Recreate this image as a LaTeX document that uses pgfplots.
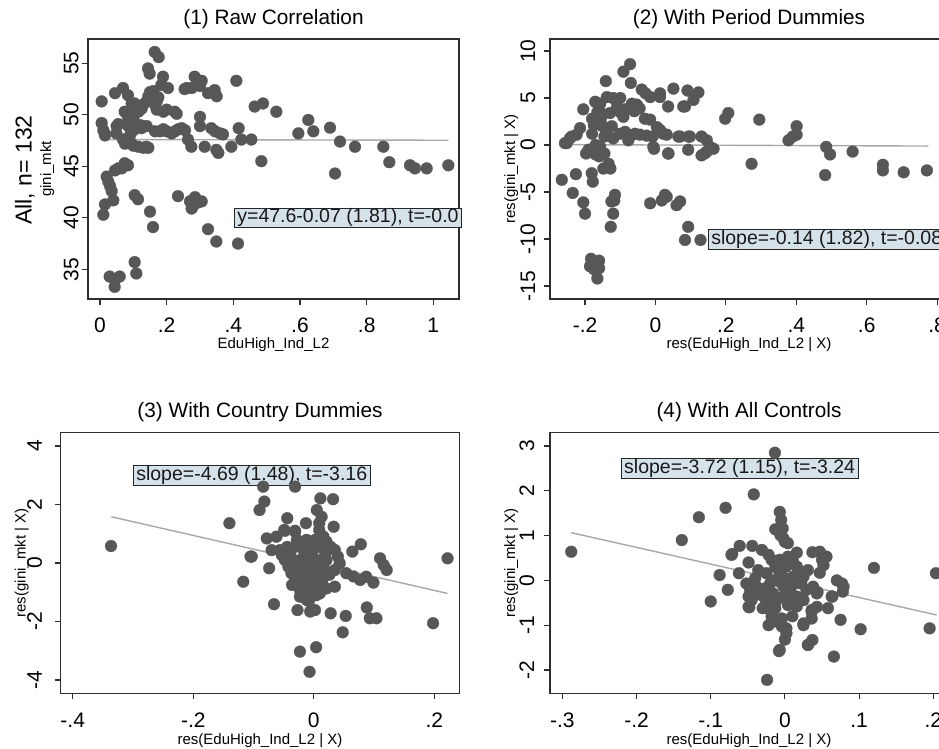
\documentclass[border=0pt]{standalone}
\usepackage{fontspec}
\setmainfont{Liberation Sans}
\usepackage{pgfplots}
\pgfplotsset{compat=1.18}

\definecolor{dotc}{HTML}{575757}
\definecolor{framec}{HTML}{2E2E2E}
\definecolor{linec}{HTML}{A8A8A8}
\definecolor{boxc}{RGB}{214,226,233}

\newcommand{\tickfont}{\fontsize{21}{21}\selectfont}
\newcommand{\titlefont}{\fontsize{20.8}{20.8}\selectfont}
\newcommand{\labfont}{\fontsize{15}{15}\selectfont}
\newcommand{\annfont}{\fontsize{19.5}{19.5}\selectfont}

\pgfplotsset{
  panel/.style={
    scale only axis, clip=false,
    axis line style={draw=framec, line width=1.3pt},
    tick style={draw=framec, line width=1.1pt},
    tick align=outside, major tick length=6pt,
    xtick pos=left, ytick pos=left,
    scaled ticks=false,
    xticklabel style={font=\tickfont, anchor=base, yshift=-28pt},
    title style={font=\titlefont, at={(0.5,1)}, anchor=base, yshift=8.7pt},
  },
  dots/.style={only marks, mark=*, mark size=5.9pt,
    mark options={fill=dotc, draw=dotc, line width=0.3pt}},
  regline/.style={draw=linec, line width=1.4pt, no marks},
}
\tikzset{annot/.style={draw=black!85, line width=0.8pt, fill=boxc,
  font=\annfont, text=black!90, inner xsep=3pt, inner ysep=0.6pt}}

\begin{document}
\begin{tikzpicture}
\useasboundingbox (0,0) rectangle (939pt,749pt);
\clip (0,0) rectangle (939pt,749pt);

% (1) raw correlation
\begin{axis}[panel, at={(88pt,450pt)}, anchor=south west,
  width=371pt, height=260pt,
  xmin=-0.036, xmax=1.077, ymin=32.12, ymax=57.36,
  xtick={0,0.2,0.4,0.6,0.8,1}, xticklabels={0,.2,.4,.6,.8,1},
  ytick={35,40,45,50,55}, yticklabels={35,40,45,50,55},
  yticklabel style={font=\tickfont, xshift=-3.7pt, rotate=90, anchor=base},
  title={(1) Raw Correlation}]
\addplot[dots] coordinates {
(0.005,51.3) (0.005,49.2) (0.01,48.5) (0.015,48.0) (0.014,48.2) (0.045,52.1)
(0.05,48.9) (0.055,49.1) (0.049,48.2) (0.069,52.6) (0.084,51.9) (0.08,50.1)
(0.074,50.3) (0.089,49.8) (0.085,48.9) (0.095,51.1) (0.104,51.1) (0.109,50.5)
(0.105,50.8) (0.069,47.6) (0.075,47.2) (0.09,47.3) (0.095,47.2) (0.1,47.0)
(0.115,46.9) (0.13,46.8) (0.139,46.9) (0.145,46.8) (0.09,48.0) (0.1,48.5)
(0.11,49.0) (0.085,49.5) (0.1,49.6) (0.12,49.0) (0.13,48.9) (0.14,48.9)
(0.124,48.7) (0.095,50.0) (0.115,50.3) (0.125,50.6) (0.13,51.0) (0.14,51.3)
(0.145,51.8) (0.15,52.2) (0.16,52.3) (0.155,51.5) (0.165,51.0) (0.17,50.5)
(0.17,51.3) (0.175,51.7) (0.144,54.5) (0.149,54.0) (0.164,56.1) (0.176,55.6)
(0.189,53.7) (0.184,52.9) (0.204,52.6) (0.19,50.3) (0.2,50.5) (0.224,50.3)
(0.23,50.1) (0.165,48.4) (0.18,48.4) (0.19,48.6) (0.2,48.4) (0.215,48.2)
(0.225,48.4) (0.235,48.6) (0.245,48.7) (0.255,48.5) (0.264,47.6) (0.274,46.9)
(0.254,52.5) (0.26,52.6) (0.275,52.6) (0.284,53.7) (0.29,53.4) (0.3,52.8)
(0.305,53.3) (0.3,49.8) (0.3,48.9) (0.314,46.9) (0.324,52.1) (0.344,52.4)
(0.35,51.8) (0.334,48.7) (0.345,48.4) (0.36,48.2) (0.369,48.1) (0.349,46.6)
(0.355,46.3) (0.394,46.9) (0.409,53.3) (0.416,48.7) (0.424,47.6) (0.454,47.6)
(0.464,50.8) (0.489,51.1) (0.484,45.5) (0.529,50.3) (0.595,48.2) (0.625,49.5)
(0.64,48.4) (0.69,48.75) (0.72,47.4) (0.765,46.9) (0.705,44.3) (0.85,46.9)
(0.868,45.4) (0.93,45.1) (0.945,44.8) (0.98,44.8) (1.045,45.1)
(0.01,40.3) (0.015,41.3) (0.02,44.0) (0.025,43.5) (0.03,43.1) (0.035,42.6)
(0.04,41.7) (0.045,44.6) (0.055,44.8) (0.065,44.8) (0.074,45.3) (0.084,45.1)
(0.104,42.2) (0.114,41.8) (0.15,40.6) (0.159,39.1) (0.234,42.1) (0.27,41.6)
(0.28,41.2) (0.285,42.0) (0.295,41.5) (0.305,41.6) (0.275,40.9) (0.324,38.9)
(0.349,37.7) (0.414,37.5) (0.029,34.3) (0.045,34.0) (0.059,34.3) (0.044,33.3)
(0.104,35.7) (0.109,34.6)
};
\addplot[regline] coordinates {(0.005,47.60) (1.045,47.53)};
\node[annot, anchor=west] at (axis cs:0.402,40) {y=47.6-0.07 (1.81), t=-0.0};
\end{axis}

% (2) with period dummies
\begin{axis}[panel, at={(550pt,450pt)}, anchor=south west,
  width=398pt, height=260pt,
  xmin=-0.2995, xmax=0.831, ymin=-16.38, ymax=11.28,
  xtick={-0.2,0,0.2,0.4,0.6,0.8}, xticklabels={-.2,0,.2,.4,.6,.8},
  ytick={-15,-10,-5,0,5,10}, yticklabels={-15,-10,-5,0,5,10},
  yticklabel style={font=\tickfont, xshift=-9pt, rotate=90, anchor=base},
  title={(2) With Period Dummies}]
\addplot[dots] coordinates {
(-0.266,-3.7) (-0.257,0.2) (-0.252,0.2) (-0.243,0.7) (-0.238,0.9) (-0.224,1.1)
(-0.214,1.8) (-0.205,3.8) (-0.235,-5.1) (-0.226,-3.1) (-0.205,-6.1) (-0.2,-7.3)
(-0.197,-0.9) (-0.185,-0.6) (-0.181,-3.0) (-0.178,-3.9) (-0.183,-12.1) (-0.186,-12.9)
(-0.175,-13.2) (-0.16,-13.1) (-0.165,-14.2) (-0.16,-12.3) (-0.18,1.2) (-0.18,2.8)
(-0.171,4.6) (-0.175,2.1) (-0.157,4.4) (-0.155,2.8) (-0.15,2.0) (-0.145,0.9)
(-0.157,-0.2) (-0.145,-0.9) (-0.141,6.8) (-0.138,5.1) (-0.165,3.5) (-0.15,3.3)
(-0.129,3.4) (-0.124,2.0) (-0.12,0.7) (-0.133,-2.0) (-0.128,-2.5) (-0.148,-2.5)
(-0.16,-1.2) (-0.17,-1.0) (-0.127,-8.7) (-0.12,-7.3) (-0.117,-5.9) (-0.115,-5.3)
(-0.125,-6.0) (-0.1,5.0) (-0.091,3.0) (-0.086,1.4) (-0.091,7.8) (-0.072,8.6)
(-0.07,6.6) (-0.067,4.4) (-0.077,0.5) (-0.058,1.2) (-0.044,1.1) (-0.053,4.3)
(-0.039,5.9) (-0.028,5.5) (-0.015,5.1) (-0.03,2.8) (-0.015,2.7) (-0.1,3.5)
(-0.11,3.9) (-0.085,3.8) (-0.06,3.6) (-0.045,3.9) (-0.1,1.2) (-0.07,1.0)
(-0.025,1.0) (-0.008,0.9) (-0.015,-6.2) (-0.006,-0.2) (-0.004,-0.4) (0.004,1.9)
(0.013,1.6) (0.022,1.2) (0.032,1.1) (0.013,5.1) (0.013,5.5) (0.018,-5.9)
(0.032,-5.5) (0.027,-5.3) (0.036,-0.9) (0.037,-0.9) (0.036,4.1) (0.051,6.0)
(0.06,-6.4) (0.07,-6.0) (0.07,0.9) (0.065,0.9) (0.084,4.1) (0.091,5.8)
(0.108,4.8) (0.122,5.6) (0.079,4.1) (0.084,-10.1) (0.093,-8.7) (0.094,0.9)
(0.098,0.9) (0.093,-0.5) (0.128,-10.1) (0.131,0.9) (0.131,-1.1) (0.146,0.5)
(0.146,-0.7) (0.155,-0.2) (0.165,-0.4) (0.14,-0.9) (0.198,2.8) (0.207,3.4)
(0.273,-2.0) (0.295,2.7) (0.378,0.5) (0.39,0.9) (0.401,2.0) (0.401,1.1)
(0.485,-0.2) (0.496,-1.0) (0.482,-3.2) (0.56,-0.7) (0.646,-2.1) (0.646,-2.7)
(0.705,-2.9) (0.771,-2.7) (-0.19,-0.5) (-0.17,0.0) (-0.14,1.3) (-0.11,4.6)
(-0.12,5.0)
};
\addplot[regline] coordinates {(-0.255,0.04) (0.775,-0.11)};
\node[annot, anchor=west] at (axis cs:0.149,-10.05) {slope=-0.14 (1.82), t=-0.08};
\end{axis}

% (3) with country dummies
\begin{axis}[panel, at={(60.7pt,55.7pt)}, anchor=south west,
  width=398.6pt, height=261pt,
  xmin=-0.42, xmax=0.2415, ymin=-4.455, ymax=4.468,
  xtick={-0.4,-0.2,0,0.2}, xticklabels={-.4,-.2,0,.2},
  ytick={-4,-2,0,2,4}, yticklabels={-4,-2,0,2,4},
  yticklabel style={font=\tickfont, xshift=-12.7pt, rotate=90, anchor=base},
  title={(3) With Country Dummies}]
\addplot[dots] coordinates {
(-0.3365,0.58) (-0.14,1.36) (-0.117,-0.64) (-0.103,0.22) (-0.09,1.81) (-0.082,2.1)
(-0.084,2.61) (-0.074,-0.18) (-0.078,0.84) (-0.062,0.9) (-0.066,-1.41) (-0.049,1.13)
(-0.044,1.53) (-0.031,2.61) (-0.031,1.07) (-0.027,-1.61) (-0.023,-3.03) (-0.013,1.36)
(-0.007,-3.72) (-0.006,-1.66) (0.002,-1.61) (0.004,-2.88) (0.005,1.81) (0.011,2.21)
(0.013,1.58) (0.009,1.36) (0.009,1.13) (0.032,2.18) (0.033,1.24) (0.021,0.73)
(0.013,-0.87) (0.028,-1.72) (0.048,-2.37) (0.053,-1.81) (0.064,0.39) (0.078,0.64)
(0.035,0.44) (0.04,0.22) (0.043,-0.01) (0.035,-0.24) (0.035,-0.81) (0.021,-0.87)
(0.054,-0.35) (0.066,-0.46) (0.077,-0.58) (0.087,-0.47) (0.099,-0.67) (0.088,-1.52)
(0.093,-1.89) (0.104,-1.89) (0.11,0.16) (0.116,-0.07) (0.121,-0.24) (0.198,-2.06)
(0.222,0.16) (-0.048,1.1) (-0.031,1.1) (-0.07,0.44) (-0.056,0.44) (-0.105,0.22)
(-0.039,0.33) (-0.034,0.10) (-0.028,-0.13) (-0.023,-0.35) (-0.017,-0.58) (-0.028,-0.70)
(-0.023,-0.92) (-0.017,-1.15) (-0.012,-1.26) (-0.006,-0.81) (0.002,-0.58) (0.010,-0.35)
(0.016,-0.13) (0.005,0.10) (-0.001,0.44) (-0.006,0.67) (-0.012,0.79) (0.002,0.79)
(0.010,0.56) (0.019,0.33) (0.021,0.10) (-0.023,0.67) (-0.017,0.44) (-0.012,0.22)
(-0.004,-0.01) (0.005,-0.24) (-0.042,-0.13) (-0.037,-0.35) (-0.031,-0.52) (-0.023,0.10)
(-0.009,-0.24) (-0.001,-0.35) (-0.023,-1.15) (-0.012,-1.04) (0.010,-1.04) (0.008,-0.81)
(-0.031,0.56) (-0.028,0.79) (0.016,0.90) (-0.048,0.10) (-0.053,0.27)
(-0.036,-0.75) (-0.020,-0.95) (-0.004,-0.55) (0.014,-0.60) (0.026,-0.40) (-0.015,0.05)
(0.028,0.55) (-0.044,0.55) (-0.008,-1.30) (0.004,-1.10)
};
\addplot[regline] coordinates {(-0.336,1.58) (0.222,-1.04)};
\node[annot] at (axis cs:-0.103,2.99) {slope=-4.69 (1.48), t=-3.16};
\end{axis}

% (4) with all controls
\begin{axis}[panel, at={(550pt,55.7pt)}, anchor=south west,
  width=398pt, height=261pt,
  xmin=-0.3166, xmax=0.2198, ymin=-2.52, ymax=3.306,
  xtick={-0.3,-0.2,-0.1,0,0.1,0.2}, xticklabels={-.3,-.2,-.1,0,.1,.2},
  ytick={-2,-1,0,1,2,3}, yticklabels={-2,-1,0,1,2,3},
  yticklabel style={font=\tickfont, xshift=-10pt, rotate=90, anchor=base},
  title={(4) With All Controls}]
\addplot[dots] coordinates {
(-0.288,0.64) (-0.139,0.9) (-0.116,1.41) (-0.1,-0.47) (-0.088,0.12) (-0.08,1.62)
(-0.077,-0.21) (-0.071,0.59) (-0.061,0.77) (-0.062,0.16) (-0.049,0.4) (-0.048,-0.6)
(-0.049,-0.36) (-0.044,0.77) (-0.042,1.92) (-0.024,-2.22) (-0.0135,2.85) (-0.008,-1.58)
(-0.007,1.53) (-0.005,1.35) (-0.003,1.16) (-0.006,1.01) (0.0,0.86) (0.004,0.83)
(-0.002,0.94) (-0.013,1.14) (0.0,-1.32) (0.002,-1.07) (-0.009,-0.89) (-0.004,-0.85)
(-0.016,-0.82) (0.025,-1.0) (0.031,-1.44) (0.037,-1.33) (0.036,-0.66) (0.036,-0.85)
(0.037,0.63) (0.047,0.64) (0.055,0.53) (0.05,0.46) (0.047,0.17) (0.044,-0.26)
(0.058,-0.62) (0.064,-0.36) (0.066,-1.7) (0.07,0.0) (0.077,-0.07) (0.078,-0.25)
(0.075,-0.88) (0.102,-1.09) (0.12,0.28) (0.195,-1.07) (0.2035,0.16) (-0.031,0.68)
(-0.022,0.57) (-0.018,0.46) (-0.072,0.57)
(-0.052,-0.07) (-0.047,-0.21) (-0.043,-0.36) (-0.038,-0.14) (-0.034,-0.29) (-0.027,-0.18)
(-0.020,-0.07) (-0.013,0.01) (-0.007,-0.03) (-0.002,-0.14) (0.007,-0.21) (0.013,-0.07)
(0.022,-0.07) (0.029,-0.21) (0.038,-0.14) (0.043,-0.29) (0.025,-0.44) (0.016,-0.36)
(0.007,-0.36) (-0.002,-0.36) (-0.011,-0.44) (-0.016,-0.29) (-0.045,-0.44) (-0.049,-0.59)
(-0.025,-0.51) (-0.029,-0.36) (-0.020,-0.66) (-0.018,-0.81) (-0.011,-0.92) (-0.004,-1.03)
(0.004,0.53) (0.011,0.42) (0.016,0.31) (0.020,0.20) (0.031,0.23) (-0.007,0.46)
(0.002,0.31) (-0.007,0.16) (-0.025,0.16) (-0.036,0.23) (0.011,0.08) (0.025,0.08)
(0.036,-0.70) (0.025,-0.96) (0.031,-1.44) (-0.007,-1.55) (0.002,-1.18) (0.056,0.53)
(0.052,0.34) (0.043,-0.59) (0.079,-0.14) (0.063,-0.36)
(-0.030,-0.62) (-0.013,-0.62) (0.004,-0.55) (0.016,-0.58) (-0.040,0.05) (0.000,0.05)
(0.016,0.62) (-0.013,0.30) (-0.022,-1.00) (0.010,-0.80)
};
\addplot[regline] coordinates {(-0.288,1.065) (0.2045,-0.772)};
\node[annot] at (axis cs:-0.061,2.5) {slope=-3.72 (1.15), t=-3.24};
\end{axis}

% axis titles set beside the panels
\node[rotate=90, anchor=base, font=\fontsize{23}{23}\selectfont] at (31.5pt,579pt) {All, n= 132};
\node[rotate=90, anchor=base, font=\labfont] at (51pt,580pt) {gini\_mkt};
\node[anchor=base, font=\labfont] at (273.5pt,400pt) {EduHigh\_Ind\_L2};
\node[rotate=90, anchor=base, font=\labfont] at (515pt,580pt) {res(gini\_mkt | X)};
\node[anchor=base, font=\labfont] at (749pt,400pt) {res(EduHigh\_Ind\_L2 | X)};
\node[rotate=90, anchor=base, font=\labfont] at (25.5pt,186pt) {res(gini\_mkt | X)};
\node[anchor=base, font=\labfont] at (260pt,5pt) {res(EduHigh\_Ind\_L2 | X)};
\node[rotate=90, anchor=base, font=\labfont] at (515pt,186pt) {res(gini\_mkt | X)};
\node[anchor=base, font=\labfont] at (749pt,5pt) {res(EduHigh\_Ind\_L2 | X)};
\end{tikzpicture}
\end{document}
